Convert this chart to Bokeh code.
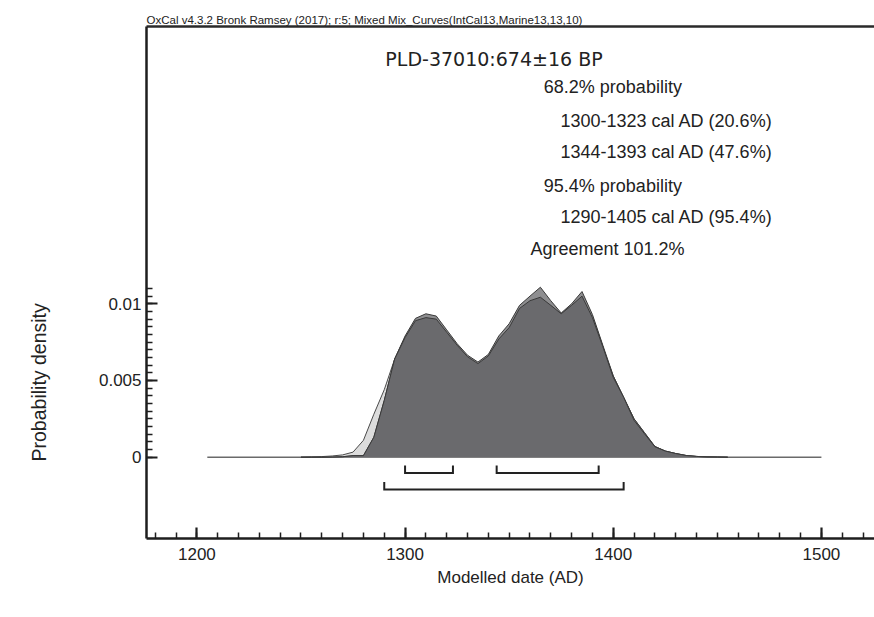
import math
from bokeh.plotting import figure
from bokeh.models import (Range1d, LinearAxis, FixedTicker, NumeralTickFormatter, Label,
                          ColumnDataSource, Title)
from bokeh.embed import file_html
from bokeh.resources import INLINE

# ---------------- data ----------------
years = [1250, 1255, 1260, 1265, 1270, 1275, 1280, 1285, 1290, 1295,
         1300, 1305, 1310, 1315, 1320, 1325, 1330, 1335, 1340, 1345,
         1350, 1355, 1360, 1365, 1370, 1375, 1380, 1385, 1390, 1395,
         1400, 1405, 1410, 1415, 1420, 1425, 1430, 1435, 1440, 1445,
         1450, 1455]

# unmodelled likelihood (light grey)
unmodelled = [0.0, 0.00002, 0.00004, 0.00008, 0.00015, 0.00033, 0.0011, 0.0028, 0.0044, 0.0064,
              0.0078, 0.0089, 0.0091, 0.0090, 0.00815, 0.0073, 0.00655, 0.0061, 0.0066, 0.0077,
              0.00845, 0.0097, 0.0102, 0.01043, 0.0099, 0.00935, 0.0099, 0.0105, 0.0092, 0.0072,
              0.0053, 0.0039, 0.0025, 0.0016, 0.0007, 0.0004, 0.00024, 0.00011, 0.00005, 0.00002,
              0.00001, 0.0]

# mixed curve distribution (medium grey)
mixed = [0.0, 0.0, 0.0, 0.00001, 0.00003, 0.0001, 0.0001, 0.0013, 0.0037, 0.0064,
         0.0079, 0.00905, 0.00935, 0.0092, 0.0083, 0.0074, 0.00665, 0.0062, 0.0067, 0.0079,
         0.0087, 0.0099, 0.0105, 0.01108, 0.0102, 0.0094, 0.0100, 0.0108, 0.0093, 0.0073,
         0.0053, 0.0039, 0.0025, 0.0016, 0.0007, 0.0004, 0.00024, 0.00011, 0.00005, 0.00002,
         0.00001, 0.0]

# modelled posterior (dark grey)
posterior = [0.0, 0.0, 0.0, 0.00001, 0.00003, 0.0001, 0.0001, 0.0013, 0.0037, 0.0064,
             0.0078, 0.0089, 0.0091, 0.0090, 0.00815, 0.0073, 0.00655, 0.0061, 0.0066, 0.0077,
             0.00845, 0.0097, 0.0102, 0.01043, 0.0099, 0.00935, 0.0099, 0.0105, 0.0091, 0.0072,
             0.0052, 0.0039, 0.0024, 0.00153, 0.00068, 0.0004, 0.00024, 0.00011, 0.00005, 0.00002,
             0.00001, 0.0]

baseline_span = [1205, 1500]
ranges_68 = [(1300, 1323), (1344, 1393)]
ranges_95 = [(1290, 1405)]

x_major = [1200, 1300, 1400, 1500]
x_minor = list(range(1180, 1530, 10))
y_major = [0, 0.005, 0.01]
y_minor = [i * 0.0005 for i in range(0, 23)]

header = "OxCal v4.3.2 Bronk Ramsey (2017); r:5; Mixed Mix_Curves(IntCal13,Marine13,13,10)"
title = "PLD-37010:674\u00b116 BP"
info_lines = ["68.2% probability", "1300-1323 cal AD (20.6%)", "1344-1393 cal AD (47.6%)",
              "95.4% probability", "1290-1405 cal AD (95.4%)", "Agreement 101.2%"]
x_title = "Modelled date (AD)"
y_title = "Probability density"

# ---------------- layout ----------------
W, H = 874, 617
FL, FT, FR, FB = 146, 26, 874, 538  # frame edges in canvas pixels
X0 = 1175.79
X1 = X0 + (FR - FL) / 2.0817
Y0, Y1 = -0.0053, 0.028077


def px_x(px):
    return X0 + (px - FL) / (FR - FL) * (X1 - X0)


def px_y(py):
    return Y1 - (py - FT) / (FB - FT) * (Y1 - Y0)


FONT = "Liberation Sans"
TXT = "#222222"

p = figure(width=W, height=H, x_range=Range1d(X0, X1), y_range=Range1d(Y0, Y1),
           output_backend="svg", toolbar_location=None,
           min_border_left=FL, min_border_right=0, min_border_top=FT,
           min_border_bottom=H - FB)
p.grid.visible = False
p.outline_line_color = None
p.background_fill_color = "white"
p.border_fill_color = "white"

# header line as the plot title
p.title.text = header
p.title.align = "left"
p.title.text_font = FONT
p.title.text_font_size = "11.5px"
p.title.text_font_style = "normal"
p.title.text_color = TXT
p.title.standoff = 1
p.title.offset = 0

AX = "#1e1e1e"

xa = p.xaxis[0]
xa.ticker = FixedTicker(ticks=x_major, minor_ticks=x_minor)
xa.axis_line_width = 2.5
xa.axis_line_color = AX
xa.major_tick_in = 11
xa.major_tick_out = 0
xa.minor_tick_in = 6
xa.minor_tick_out = 0
xa.major_tick_line_width = 2.2
xa.minor_tick_line_width = 1.5
xa.major_tick_line_color = AX
xa.minor_tick_line_color = AX
xa.major_label_text_font = FONT
xa.major_label_text_font_size = "17px"
xa.major_label_text_color = TXT
xa.major_label_standoff = 9
xa.axis_label = x_title
xa.axis_label_text_font = FONT
xa.axis_label_text_font_size = "17px"
xa.axis_label_text_font_style = "normal"
xa.axis_label_text_color = TXT
xa.axis_label_standoff = 5

ya = p.yaxis[0]
ya.ticker = FixedTicker(ticks=y_major, minor_ticks=y_minor)
ya.formatter = NumeralTickFormatter(format="0.[000]")
ya.axis_line_width = 2.5
ya.axis_line_color = AX
ya.major_tick_in = 11
ya.major_tick_out = 0
ya.minor_tick_in = 6
ya.minor_tick_out = 0
ya.major_tick_line_width = 2.2
ya.minor_tick_line_width = 1.5
ya.major_tick_line_color = AX
ya.minor_tick_line_color = AX
ya.major_label_text_font = FONT
ya.major_label_text_font_size = "17px"
ya.major_label_text_color = TXT
ya.major_label_standoff = 5
# blank spacer label widening the axis panel so the title sits further left
ya.axis_label = " "
ya.axis_label_text_font_size = "1px"
ya.axis_label_standoff = 17

top_axis = LinearAxis(ticker=FixedTicker(ticks=[]), axis_line_width=2.5, axis_line_color="#2a2a2a",
                      major_tick_line_color=None, minor_tick_line_color=None,
                      major_tick_out=0, minor_tick_out=0, major_tick_in=0, minor_tick_in=0,
                      major_label_text_font_size="0px", major_label_standoff=0)
p.add_layout(top_axis, "above")

p.add_layout(Title(text=y_title, align="left", offset=77, standoff=50, text_font=FONT,
                   text_font_size="19.5px", text_font_style="normal", text_color=TXT), "left")

# ---------------- distributions ----------------
src = ColumnDataSource(dict(year=years, unmod=unmodelled, mixed=mixed, post=posterior))

p.line(x=baseline_span, y=[0, 0], line_color="#6a6a6a", line_width=1.5)

p.varea(x="year", y1=0, y2="unmod", source=src, fill_color="#dcdcdc")
p.line(x="year", y="unmod", source=src, line_color="#4a4a4a", line_width=1)
p.varea(x="year", y1=0, y2="mixed", source=src, fill_color="#8e8e90")
p.line(x="year", y="mixed", source=src, line_color="#3a3a3a", line_width=1)
p.varea(x="year", y1=0, y2="post", source=src, fill_color="#6a6a6d")
p.line(x="year", y="post", source=src, line_color="#3a3a3a", line_width=1)

# ---------------- range brackets ----------------
def brackets(rngs, bar_py, top_py):
    yb, yt = px_y(bar_py), px_y(top_py)
    xs = [[a, a, b, b] for a, b in rngs]
    ys = [[yt, yb, yb, yt] for _ in rngs]
    p.multi_line(xs=xs, ys=ys, line_color="#222222", line_width=2, line_join="miter")


brackets(ranges_68, 472.5, 465)
brackets(ranges_95, 489, 481.5)

# ---------------- texts inside the frame ----------------
def canvas_label(text, cx, cy, size, align="left", baseline="alphabetic", font=FONT):
    p.add_layout(Label(x=cx, y=cy, x_units="canvas", y_units="canvas", text=text,
                       text_font=font, text_font_size=size, text_color=TXT,
                       text_align=align, text_baseline=baseline))


canvas_label(title, 493.5, 58.3, "19px", align="center", font="DejaVu Sans")

info_x = [543.3, 560, 560, 543.3, 560, 530]
info_y = [86.7, 120, 151.7, 185, 216.7, 248.3]
for t, lx, ly in zip(info_lines, info_x, info_y):
    canvas_label(t, lx, ly, "18px")

open("out.html", "w").write(file_html(p, INLINE))
